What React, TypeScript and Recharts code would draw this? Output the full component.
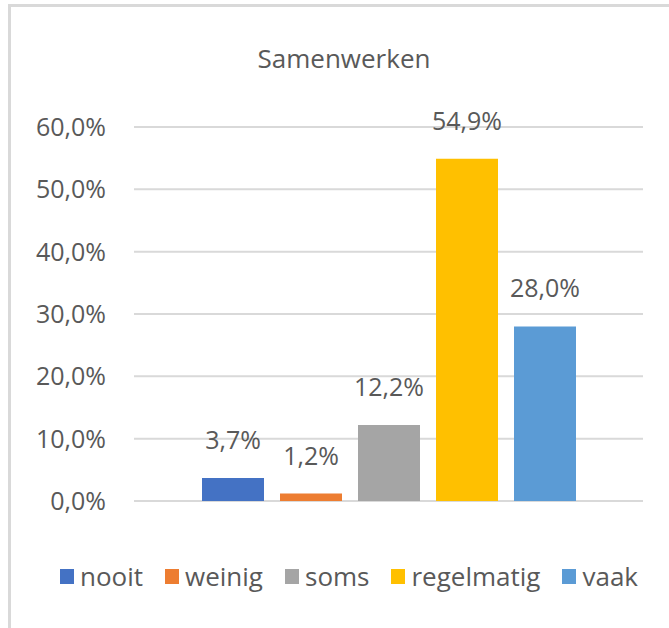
import { BarChart, Bar, XAxis, YAxis, CartesianGrid, Legend, LabelList } from "recharts";

const TITLE = "Samenwerken";
const SERIES = ["nooit", "weinig", "soms", "regelmatig", "vaak"];
const VALUES = [3.7, 1.2, 12.2, 54.9, 28.0];
const COLORS = ["#4472C4", "#ED7D31", "#A5A5A5", "#FFC000", "#5B9BD5"];
const Y_TICKS = [0, 10, 20, 30, 40, 50, 60];

const FONT = "'Open Sans', sans-serif";
const TEXT = "#595959";

const row: Record<string, string | number> = { name: TITLE };
SERIES.forEach((s, i) => {
  row[s] = VALUES[i];
});
const data = [row];

const pct = (v: number | string) => `${Number(v).toFixed(1).replace(".", ",")}%`;

// keep legend in series order (recharts sorts the payload by default)
function LegendRow({ payload }: any) {
  const items = SERIES.map((s) => (payload || []).find((p: any) => p.value === s)).filter(Boolean);
  return (
    <div
      style={{
        display: "flex",
        justifyContent: "center",
        alignItems: "center",
        height: 40,
        paddingLeft: 32,
        fontFamily: FONT,
        fontSize: 26,
        color: TEXT,
      }}
    >
      {items.map((p: any) => (
        <div key={p.value} style={{ display: "flex", alignItems: "center", marginRight: 22 }}>
          <span style={{ width: 14, height: 15, background: p.color, marginRight: 6, display: "inline-block" }} />
          <span>{p.value}</span>
        </div>
      ))}
    </div>
  );
}

export default function App() {
  return (
    <div
      style={{
        position: "fixed",
        left: 8,
        top: 4,
        width: 661,
        height: 624,
        overflow: "hidden",
        borderTop: "3px solid #d9d9d9",
        borderLeft: "3px solid #d9d9d9",
        boxSizing: "border-box",
        background: "#fff",
      }}
    >
      <div
        style={{
          position: "absolute",
          top: 33,
          left: 0,
          width: 666,
          textAlign: "center",
          fontFamily: FONT,
          fontSize: 26,
          color: TEXT,
        }}
      >
        {TITLE}
      </div>
      <BarChart
        width={666}
        height={621}
        data={data}
        margin={{ top: 120, right: 34, left: 0, bottom: 87 }}
        barSize={62}
        barGap={16}
      >
        <CartesianGrid vertical={false} stroke="#d9d9d9" strokeWidth={2} />
        <XAxis dataKey="name" hide />
        <YAxis
          width={123}
          domain={[0, 60]}
          ticks={Y_TICKS}
          tickFormatter={pct}
          axisLine={false}
          tickLine={false}
          tickMargin={22}
          tick={{ fill: TEXT, fontSize: 25, fontFamily: FONT }}
        />
        <Legend
          verticalAlign="bottom"
          content={<LegendRow />}
          wrapperStyle={{ top: 549, bottom: "auto", left: 0, width: 666 }}
        />
        {SERIES.map((s, i) => (
          <Bar key={s} dataKey={s} fill={COLORS[i]} isAnimationActive={false}>
            <LabelList
              dataKey={s}
              position="top"
              offset={29}
              formatter={pct}
              style={{ fill: TEXT, fontSize: 25, fontFamily: FONT }}
            />
          </Bar>
        ))}
      </BarChart>
    </div>
  );
}
